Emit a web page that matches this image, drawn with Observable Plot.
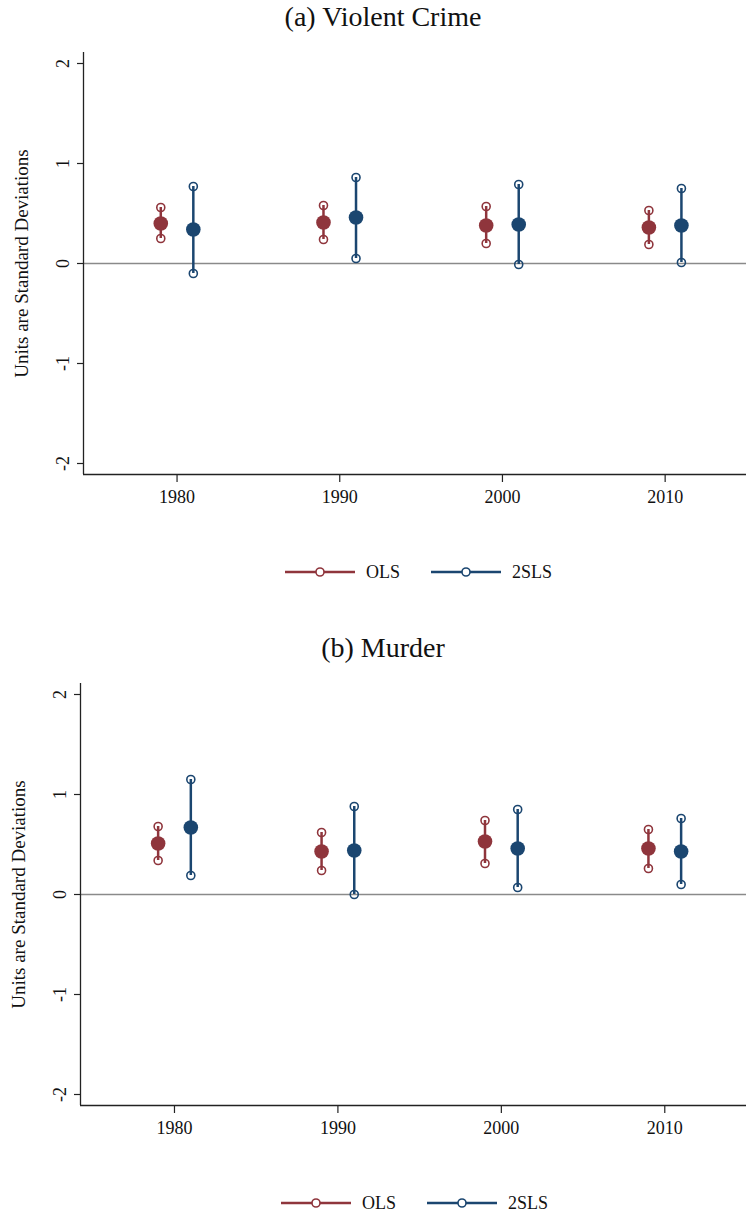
<!DOCTYPE html>
<html><head><meta charset="utf-8">
<script src="https://cdn.jsdelivr.net/npm/d3@7"></script>
<script src="https://cdn.jsdelivr.net/npm/@observablehq/plot@0.6"></script>
<style>
body{margin:0;background:#fff;font-family:"Liberation Serif",serif;}
#page{position:relative;width:746px;height:1218px;overflow:hidden;background:#fff;}
.title{position:absolute;left:10px;width:746px;text-align:center;font-size:28px;line-height:28px;color:#111;}
.chart,.legend{position:absolute;left:0;}
</style></head><body><div id="page"></div>
<script>
const years = [1980, 1990, 2000, 2010];
const seriesNames = ["OLS", "2SLS"];
const seriesColors = ["#8f353c", "#1b4670"];
const yTicks = [-2, -1, 0, 1, 2];
const yLabel = "Units are Standard Deviations";
const titles = ["(a) Violent Crime", "(b) Murder"];

// (a) Violent Crime
const violentOLS   = [0.40, 0.41, 0.38, 0.36];
const violentOLSLo = [0.25, 0.24, 0.20, 0.19];
const violentOLSHi = [0.56, 0.58, 0.57, 0.53];
const violentIV    = [0.34, 0.46, 0.39, 0.38];
const violentIVLo  = [-0.10, 0.05, -0.01, 0.01];
const violentIVHi  = [0.77, 0.86, 0.79, 0.75];

// (b) Murder
const murderOLS   = [0.51, 0.43, 0.53, 0.46];
const murderOLSLo = [0.34, 0.24, 0.31, 0.26];
const murderOLSHi = [0.68, 0.62, 0.74, 0.65];
const murderIV    = [0.67, 0.44, 0.46, 0.43];
const murderIVLo  = [0.19, 0.00, 0.07, 0.10];
const murderIVHi  = [1.15, 0.88, 0.85, 0.76];

const offsets = [-1, 1];
const xDomain = [1974.25, 2015];
const yDomain = [-2.11, 2.11];
const FONT = "Liberation Serif";

const page = document.getElementById("page");

function buildPanel(cfg) {
  const t = document.createElement("div");
  t.className = "title";
  t.style.top = cfg.titleTop + "px";
  t.textContent = cfg.title;
  page.appendChild(t);

  const rows = [];
  cfg.series.forEach((s, i) => years.forEach((yr, j) => rows.push({
    series: seriesNames[i], x: yr + offsets[i], est: s.est[j], lo: s.lo[j], hi: s.hi[j]
  })));

  const plot = Plot.plot({
    width: 746, height: 480,
    marginLeft: cfg.ml, marginRight: 0, marginTop: cfg.mt, marginBottom: cfg.mb,
    x: {domain: xDomain},
    y: {domain: yDomain},
    color: {domain: seriesNames, range: seriesColors},
    style: {fontFamily: FONT, fontSize: "18px", color: "#111", background: "transparent", overflow: "visible"},
    marks: [
      Plot.ruleY([0], {stroke: "#8a8a8a", strokeWidth: 1.5}),
      Plot.ruleX(rows, {x: "x", y1: "lo", y2: "hi", stroke: "series", strokeWidth: 2.5}),
      Plot.dot(rows, {x: "x", y: "lo", r: 4, stroke: "series", strokeWidth: 1.6, fill: "none"}),
      Plot.dot(rows, {x: "x", y: "hi", r: 4, stroke: "series", strokeWidth: 1.6, fill: "none"}),
      Plot.dot(rows, {x: "x", y: "est", r: 7.3, fill: "series"}),
      Plot.axisX({ticks: years, tickSize: 8, tickPadding: 8, tickFormat: d => String(d), label: null, stroke: "#222", strokeWidth: 1.2}),
      Plot.axisY({ticks: yTicks, tickSize: 6, tickPadding: 9, tickRotate: -90, tickFormat: d => String(d), label: null, stroke: "#222", strokeWidth: 1.2}),
      Plot.ruleX([xDomain[0]], {stroke: "#222", strokeWidth: 1.3}),
      Plot.ruleY([yDomain[0]], {stroke: "#222", strokeWidth: 1.3}),
      Plot.text([yLabel], {frameAnchor: "left", textAnchor: "middle", lineAnchor: "middle", rotate: -90, dx: -62, text: d => d, fontSize: 19, fill: "#111"})
    ]
  });
  plot.classList.add("chart");
  plot.style.top = cfg.plotTop + "px";
  page.appendChild(plot);

  // legend
  const svg = d3.create("svg").attr("class", "legend").attr("width", 746).attr("height", 30)
    .style("top", cfg.legendTop + "px").style("font-family", FONT);
  seriesNames.forEach((name, i) => {
    const x0 = cfg.legendX[i];
    const g = svg.append("g");
    g.append("line").attr("x1", x0).attr("x2", x0 + 70).attr("y1", 15).attr("y2", 15)
      .attr("stroke", seriesColors[i]).attr("stroke-width", 2.5);
    g.append("circle").attr("cx", x0 + 35).attr("cy", 15).attr("r", 4)
      .attr("fill", "#fff").attr("stroke", seriesColors[i]).attr("stroke-width", 1.6);
    g.append("text").attr("x", x0 + 81).attr("y", 21).attr("font-size", 18).attr("fill", "#111").text(name);
  });
  page.appendChild(svg.node());
}

buildPanel({
  title: titles[0], titleTop: 3, plotTop: 40, ml: 83, mt: 12, mb: 46, legendTop: 557, legendX: [285, 431],
  series: [
    {est: violentOLS, lo: violentOLSLo, hi: violentOLSHi},
    {est: violentIV, lo: violentIVLo, hi: violentIVHi}
  ]
});
buildPanel({
  title: titles[1], titleTop: 634, plotTop: 670, ml: 80, mt: 13, mb: 45, legendTop: 1188, legendX: [281, 427],
  series: [
    {est: murderOLS, lo: murderOLSLo, hi: murderOLSHi},
    {est: murderIV, lo: murderIVLo, hi: murderIVHi}
  ]
});
</script>
</body></html>
